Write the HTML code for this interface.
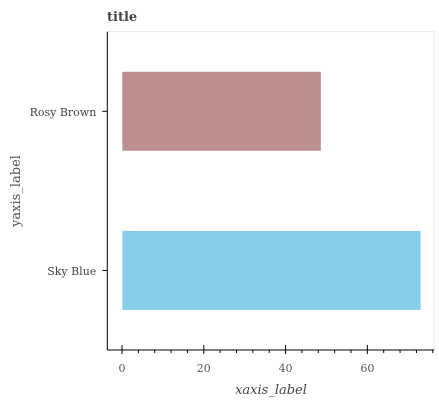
<!DOCTYPE html>
<html><head><meta charset="utf-8"><style>
html,body{margin:0;padding:0;background:#fff;width:439px;height:400px;overflow:hidden}
text{font-family:"DejaVu Serif","Liberation Serif",serif}
</style></head><body>
<svg id="chart" width="439" height="400"></svg>
<script>
const categories=["Rosy Brown","Sky Blue"];
const values=[48.7,73.1];
const colors=["#bc8e8e","#87ceeb"];
const xTicks=[0,20,40,60];
const xMin=-3.6,xMax=76.3;
const L=107.3,R=434,T=31.7,B=350;
const NS="http://www.w3.org/2000/svg";
const svg=document.getElementById('chart');
const xs=v=>L+(v-xMin)/(xMax-xMin)*(R-L);
const band=(B-T)/categories.length;
const yc=i=>T+band*(i+0.5);
function el(t,a,txt){const e=document.createElementNS(NS,t);for(const k in a)e.setAttribute(k,a[k]);if(txt!==undefined)e.textContent=txt;svg.appendChild(e);return e;}
let e;
e=el('rect',{x:L,y:T,width:R-L,height:B-T,fill:'none',stroke:'#e0e0e0','stroke-width':0.8});


categories.forEach((c,i)=>{
  const h=band*0.5;
  e=el('rect',{x:xs(0),y:yc(i)-h/2,width:xs(values[i])-xs(0),height:h,fill:colors[i],stroke:'#fff','stroke-width':0.6});
  
  
  e=el('line',{x1:L-5,x2:L,y1:yc(i),y2:yc(i),stroke:'#000','stroke-width':1});
  
  
  e=el('text',{x:L-11,y:yc(i)+4.5,'text-anchor':'end','font-size':11,fill:'#444'},c);
  
  
});
e=el('line',{x1:L,x2:L,y1:T,y2:B,stroke:'#000','stroke-width':1});


e=el('line',{x1:L,x2:R,y1:B,y2:B,stroke:'#000','stroke-width':1});


for(let v=0;v<=xMax;v+=4){
  const major=v%20===0;
  e=el('line',{x1:xs(v),x2:xs(v),y1:major?B-5:B,y2:B+(major?4:3),stroke:'#000','stroke-width':1});
  
  
}
xTicks.forEach(v=>{
  e=el('text',{x:xs(v),y:372,'text-anchor':'middle','font-size':11,fill:'#555'},String(v));
  
  
});
e=el('text',{x:107,y:21,'font-size':13,'font-weight':'bold',fill:'#444'},'title');


e=el('text',{x:271,y:394,'text-anchor':'middle','font-size':13,'font-style':'italic',fill:'#444'},'xaxis_label');


e=el('text',{x:0,y:0,'text-anchor':'middle','font-size':13,fill:'#555',transform:'translate(20,191) rotate(-90)'},'yaxis_label');


</script>
</body></html>
